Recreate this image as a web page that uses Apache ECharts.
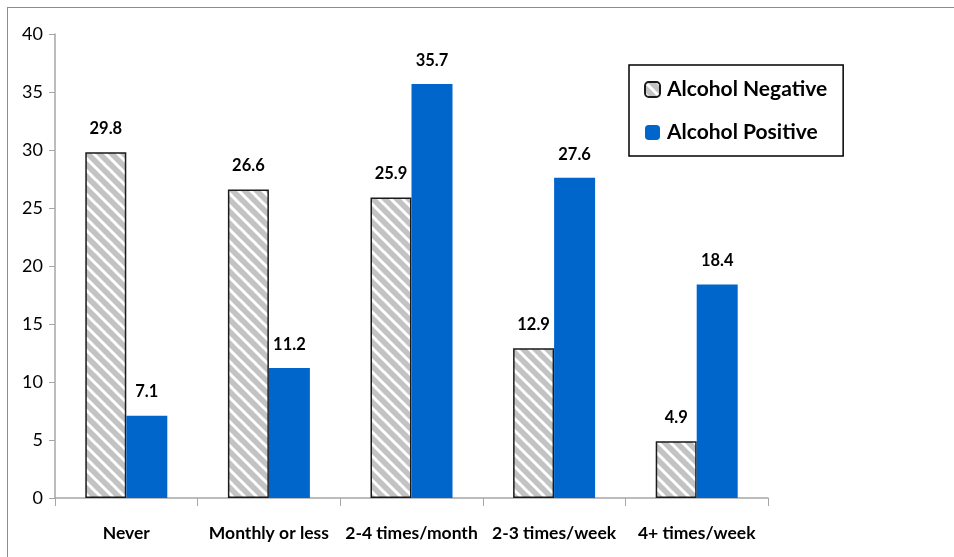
<!DOCTYPE html>
<html>
<head>
<meta charset="utf-8">
<script src="https://cdn.jsdelivr.net/npm/echarts@6/dist/echarts.min.js"></script>
<style>
  html, body { margin: 0; padding: 0; background: #fff; }
  #frame { position: absolute; left: 7px; top: 7px; width: 960px; height: 560px; border: 1px solid #8c8c8c; }
  #chart { position: absolute; left: 0; top: 0; width: 954px; height: 557px; }
</style>
</head>
<body>
<div id="frame"></div>
<div id="chart"></div>
<script>
  var categories = ['Never', 'Monthly or less', '2-4 times/month', '2-3 times/week', '4+ times/week'];
  var negativeValues = [29.8, 26.6, 25.9, 12.9, 4.9];
  var positiveValues = [7.1, 11.2, 35.7, 27.6, 18.4];
  var yTicks = [0, 5, 10, 15, 20, 25, 30, 35, 40];

  // hatch pattern: grey with white diagonal stripes
  function makeHatch() {
    var c = document.createElement('canvas');
    c.width = 12; c.height = 12;
    var ctx = c.getContext('2d');
    ctx.fillStyle = '#c3c3c3';
    ctx.fillRect(0, 0, 12, 12);
    ctx.strokeStyle = '#ffffff';
    ctx.lineWidth = 3;
    for (var k = -1; k <= 1; k++) {
      ctx.beginPath();
      ctx.moveTo(k * 12 - 2, -2);
      ctx.lineTo(k * 12 + 14, 14);
      ctx.stroke();
    }
    return c;
  }

  var chart = echarts.init(document.getElementById('chart'));
  var font = 'Lato, "Open Sans", sans-serif';
  var option = {
    animation: false,
    textStyle: { fontFamily: font },
    legend: {
      orient: 'vertical',
      left: 629,
      top: 65,
      padding: [14, 16, 13, 15],
      itemGap: 22,
      itemWidth: 15,
      itemHeight: 15,
      borderColor: '#000',
      borderWidth: 1.5,
      textStyle: { fontSize: 21, fontWeight: 'bold', color: '#000', fontFamily: font, padding: [0, 0, 0, 2] },
      data: ['Alcohol Negative', 'Alcohol Positive']
    },
    grid: { left: 55, right: 186, top: 34, bottom: 59 },
    xAxis: {
      type: 'category',
      data: categories,
      axisLine: { lineStyle: { color: '#a6a6a6', width: 1.5 } },
      axisTick: { show: true, length: 8, lineStyle: { color: '#a6a6a6' } },
      axisLabel: { fontSize: 17.5, fontWeight: 'bold', color: '#000', margin: 26, interval: 0 }
    },
    yAxis: {
      type: 'value',
      min: yTicks[0],
      max: yTicks[yTicks.length - 1],
      interval: 5,
      axisLine: { show: true, lineStyle: { color: '#a6a6a6', width: 1.5 } },
      axisTick: { show: true, length: 6, lineStyle: { color: '#a6a6a6' } },
      splitLine: { show: false },
      axisLabel: { fontSize: 18, color: '#000', margin: 12 }
    },
    series: [
      {
        name: 'Alcohol Negative',
        type: 'bar',
        data: negativeValues,
        barWidth: 41,
        barGap: '0%',
        itemStyle: {
          color: { image: makeHatch(), repeat: 'repeat' },
          borderColor: '#1a1a1a',
          borderWidth: 1.5
        },
        label: { show: true, position: 'top', distance: 15, fontSize: 16.5, fontWeight: 'bold', color: '#000' }
      },
      {
        name: 'Alcohol Positive',
        type: 'bar',
        data: positiveValues,
        barWidth: 41,
        itemStyle: { color: '#0066cc' },
        label: { show: true, position: 'top', distance: 15, fontSize: 16.5, fontWeight: 'bold', color: '#000' }
      }
    ]
  };
  chart.setOption(option);
  window.addEventListener('resize', function () { chart.resize(); });
</script>
</body>
</html>
